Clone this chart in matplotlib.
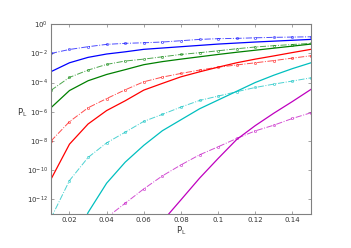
import numpy as np
import matplotlib
matplotlib.use("Agg")
import matplotlib.pyplot as plt
from matplotlib.ticker import FixedLocator, LogFormatterMathtext

# x positions (P_L) shared by all curves
p_l = [0.01, 0.02, 0.03, 0.04, 0.05, 0.06, 0.07, 0.08,
       0.09, 0.10, 0.11, 0.12, 0.13, 0.14, 0.15]

# log10 of the y values (None = not drawn)
blue_dash = [-2.01, -1.74, -1.55, -1.39, -1.32, -1.28, -1.23, -1.14,
             -1.05, -1.00, -0.98, -0.94, -0.91, -0.89, -0.87]
blue_solid = [-3.26, -2.65, -2.28, -2.05, -1.90, -1.73, -1.64, -1.55,
              -1.46, -1.37, -1.30, -1.23, -1.17, -1.11, -1.05]
green_dash = [-4.54, -3.65, -3.15, -2.76, -2.53, -2.40, -2.24, -2.08,
              -1.96, -1.83, -1.69, -1.57, -1.48, -1.40, -1.32]
green_solid = [-5.73, -4.55, -3.88, -3.45, -3.12, -2.78, -2.57, -2.40,
               -2.24, -2.08, -1.93, -1.79, -1.65, -1.51, -1.37]
red_dash = [-8.01, -6.68, -5.73, -5.10, -4.50, -3.95, -3.63, -3.38,
            -3.15, -2.95, -2.80, -2.65, -2.50, -2.33, -2.17]
red_solid = [-10.63, -8.22, -6.84, -5.92, -5.25, -4.52, -4.06, -3.61,
             -3.27, -2.95, -2.65, -2.40, -2.18, -1.95, -1.73]
cyan_dash = [-13.3, -10.71, -9.13, -8.13, -7.40, -6.66, -6.18, -5.68,
             -5.23, -4.93, -4.63, -4.34, -4.11, -3.90, -3.68]
cyan_solid = [None, -16.0, -12.9, -10.89, -9.45, -8.30, -7.30, -6.55,
              -5.80, -5.20, -4.60, -4.00, -3.50, -3.05, -2.65]
magenta_dash = [None, None, -15.0, -13.25, -12.26, -11.28, -10.39, -9.64,
                -8.95, -8.40, -7.83, -7.31, -6.92, -6.46, -6.07]
magenta_solid = [None, None, None, None, None, -15.5, -13.5, -12.03,
                 -10.55, -9.20, -7.90, -6.95, -6.10, -5.30, -4.47]

y_ticks = [1e-12, 1e-10, 1e-8, 1e-6, 1e-4, 1e-2, 1e0]
x_ticks = [0.02, 0.04, 0.06, 0.08, 0.10, 0.12, 0.14]
x_tick_labels = ['0.02', '0.04', '0.06', '0.08', '0.1', '0.12', '0.14']

blue = '#0000ff'
green = '#008000'
red = '#ff0000'
cyan = '#00bfbf'
magenta = '#bf00bf'


def to_lin(vals):
    x, y = [], []
    for xv, v in zip(p_l, vals):
        if v is None:
            continue
        x.append(xv)
        y.append(10.0 ** v)
    return x, y


fig = plt.figure(figsize=(3.51, 2.48), dpi=100)
ax = fig.add_axes([0.145, 0.137, 0.741, 0.766])

series = [
    (blue_dash, blue, True), (blue_solid, blue, False),
    (green_dash, green, True), (green_solid, green, False),
    (red_dash, red, True), (red_solid, red, False),
    (cyan_dash, cyan, True), (cyan_solid, cyan, False),
    (magenta_dash, magenta, True), (magenta_solid, magenta, False),
]
for vals, col, dashed in series:
    x, y = to_lin(vals)
    if dashed:
        ax.plot(x, y, linestyle='-.', color=col, linewidth=0.7, alpha=0.7,
                marker='o', markersize=1.6, markerfacecolor='none',
                markeredgewidth=0.5)
    else:
        ax.plot(x, y, linestyle='-', color=col, linewidth=0.9)

ax.set_yscale('log')
ax.set_xlim(0.01, 0.15)
ax.set_ylim(1e-13, 1e0)
ax.xaxis.set_major_locator(FixedLocator(x_ticks))
ax.set_xticklabels(x_tick_labels)
ax.yaxis.set_major_locator(FixedLocator(y_ticks))
ax.yaxis.set_major_formatter(LogFormatterMathtext())
ax.yaxis.set_minor_locator(FixedLocator([]))

for s in ax.spines.values():
    s.set_color('#808080')
    s.set_linewidth(0.8)
ax.tick_params(direction='in', which='both', top=True, right=True,
               length=2.5, width=0.5, color='#808080', labelsize=5,
               labelcolor='#333333', pad=2)

ax.set_xlabel('P$_\\mathregular{L}$', fontsize=6, color='#333333', labelpad=1)
ax.set_ylabel('P$_\\mathregular{L}$', fontsize=6, color='#333333',
              rotation=0, labelpad=4)
ax.yaxis.set_label_coords(-0.11, 0.5)

fig.savefig('out.png', dpi=100)
